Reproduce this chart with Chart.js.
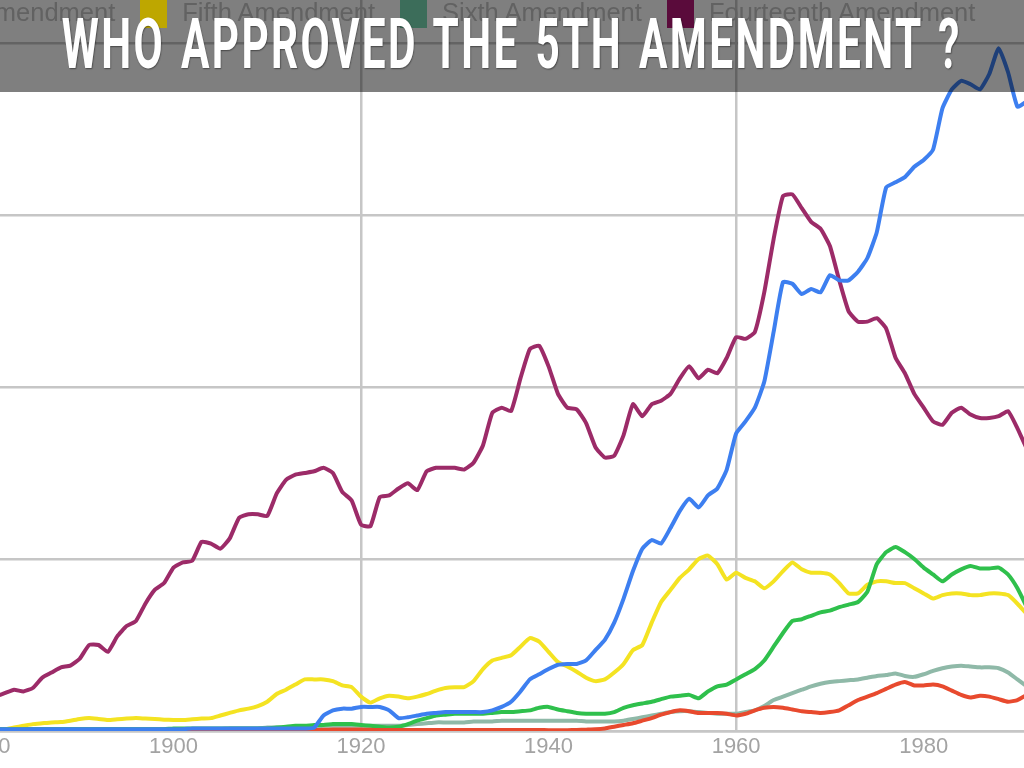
<!DOCTYPE html>
<html>
<head>
<meta charset="utf-8">
<title>Who approved the 5th Amendment ?</title>
<script src="https://cdn.jsdelivr.net/npm/chart.js@4.4.0/dist/chart.umd.min.js"></script>
<style>
  html, body { margin: 0; padding: 0; background: #fff; }
  #contenitore { position: relative; width: 1024px; height: 768px; overflow: hidden; background: #fff; }
  #ngramChart { position: absolute; left: 0; top: 0; filter: blur(0.6px); }
  #banda { position: absolute; left: 0; top: 0; width: 1024px; height: 92px; background: rgba(0, 0, 0, 0.5); }
  #legenda {
    position: absolute; top: -4px; left: 0; display: flex; white-space: nowrap;
    font-family: "Liberation Sans", Arial, sans-serif; font-size: 25.5px; color: #626262;
    filter: blur(0.7px);
  }
  .voce { display: flex; align-items: flex-start; margin-right: 25px; }
  .quadrato { width: 27px; height: 32px; margin-right: 15px; }
  .testoVoce { line-height: 26px; margin-top: 3px; }
  #titolo {
    position: absolute; left: 0; top: 8px; width: 1024px;
    display: flex; justify-content: center;
    font-family: Roboto, "Liberation Sans", sans-serif; font-weight: 700; font-size: 71px;
    letter-spacing: 4px; word-spacing: 5px;
    line-height: 1; color: #fff; white-space: nowrap;
  }
  #titolo span { display: inline-block; flex: none; transform-origin: 50% 50%; text-shadow: 1px 1px 2px rgba(0,0,0,0.45); }
</style>
</head>
<body>
<div id="contenitore">
  <canvas id="ngramChart" width="1024" height="768"></canvas>
  <div id="banda"></div>
  <div id="legenda"></div>
  <div id="titolo"><span>WHO APPROVED THE 5TH AMENDMENT ?</span></div>
</div>
<script>
// Anni (asse x)
const anni = [
  1880, 1881, 1882, 1883, 1884, 1885, 1886, 1887, 1888, 1889,
  1890, 1891, 1892, 1893, 1894, 1895, 1896, 1897, 1898, 1899,
  1900, 1901, 1902, 1903, 1904, 1905, 1906, 1907, 1908, 1909,
  1910, 1911, 1912, 1913, 1914, 1915, 1916, 1917, 1918, 1919,
  1920, 1921, 1922, 1923, 1924, 1925, 1926, 1927, 1928, 1929,
  1930, 1931, 1932, 1933, 1934, 1935, 1936, 1937, 1938, 1939,
  1940, 1941, 1942, 1943, 1944, 1945, 1946, 1947, 1948, 1949,
  1950, 1951, 1952, 1953, 1954, 1955, 1956, 1957, 1958, 1959,
  1960, 1961, 1962, 1963, 1964, 1965, 1966, 1967, 1968, 1969,
  1970, 1971, 1972, 1973, 1974, 1975, 1976, 1977, 1978, 1979,
  1980, 1981, 1982, 1983, 1984, 1985, 1986, 1987, 1988, 1989,
  1990, 1991
];

// Serie
const firstAmendment = [
  0.01, 0.01, 0.01, 0.01, 0.01, 0.01, 0.01, 0.01, 0.01, 0.01,
  0.01, 0.01, 0.01, 0.01, 0.01, 0.01, 0.01, 0.01, 0.01, 0.01,
  0.01, 0.01, 0.015, 0.015, 0.015, 0.015, 0.015, 0.015, 0.015, 0.015,
  0.015, 0.015, 0.015, 0.015, 0.015, 0.02, 0.09, 0.12, 0.13, 0.13,
  0.14, 0.14, 0.14, 0.12, 0.075, 0.08, 0.09, 0.10, 0.105, 0.11,
  0.11, 0.11, 0.11, 0.11, 0.12, 0.14, 0.17, 0.23, 0.30, 0.33,
  0.36, 0.385, 0.39, 0.39, 0.41, 0.47, 0.53, 0.63, 0.77, 0.93,
  1.06, 1.11, 1.09, 1.18, 1.28, 1.35, 1.30, 1.37, 1.41, 1.52,
  1.73, 1.80, 1.88, 2.03, 2.32, 2.61, 2.60, 2.54, 2.57, 2.55,
  2.65, 2.62, 2.62, 2.67, 2.75, 2.90, 3.16, 3.19, 3.22, 3.28,
  3.32, 3.38, 3.62, 3.73, 3.78, 3.76, 3.73, 3.82, 3.97, 3.83,
  3.63, 3.66
];
const secondAmendment = [
  0.005, 0.005, 0.005, 0.005, 0.005, 0.005, 0.005, 0.005, 0.005, 0.005,
  0.005, 0.005, 0.005, 0.005, 0.005, 0.005, 0.005, 0.005, 0.005, 0.005,
  0.005, 0.005, 0.005, 0.005, 0.005, 0.005, 0.005, 0.005, 0.005, 0.005,
  0.005, 0.005, 0.005, 0.005, 0.005, 0.006, 0.007, 0.008, 0.008, 0.008,
  0.008, 0.007, 0.006, 0.006, 0.006, 0.006, 0.006, 0.006, 0.006, 0.006,
  0.006, 0.006, 0.006, 0.006, 0.006, 0.006, 0.006, 0.006, 0.006, 0.006,
  0.005, 0.005, 0.005, 0.006, 0.008, 0.01, 0.015, 0.025, 0.035, 0.045,
  0.06, 0.075, 0.095, 0.11, 0.12, 0.115, 0.105, 0.105, 0.105, 0.10,
  0.09, 0.10, 0.12, 0.135, 0.14, 0.135, 0.125, 0.115, 0.11, 0.105,
  0.11, 0.12, 0.15, 0.18, 0.20, 0.22, 0.245, 0.27, 0.285, 0.265,
  0.265, 0.27, 0.26, 0.235, 0.21, 0.195, 0.205, 0.20, 0.185, 0.17,
  0.18, 0.21
];
const fourthAmendment = [
  0.01, 0.01, 0.01, 0.01, 0.01, 0.01, 0.01, 0.01, 0.01, 0.01,
  0.01, 0.01, 0.01, 0.01, 0.01, 0.01, 0.01, 0.01, 0.01, 0.01,
  0.015, 0.015, 0.015, 0.015, 0.015, 0.015, 0.015, 0.015, 0.015, 0.015,
  0.015, 0.02, 0.025, 0.03, 0.03, 0.035, 0.035, 0.04, 0.04, 0.04,
  0.035, 0.03, 0.025, 0.02, 0.025, 0.04, 0.06, 0.075, 0.09, 0.095,
  0.10, 0.10, 0.10, 0.10, 0.105, 0.11, 0.11, 0.115, 0.12, 0.135,
  0.14, 0.125, 0.115, 0.105, 0.10, 0.10, 0.10, 0.11, 0.135, 0.15,
  0.16, 0.17, 0.185, 0.20, 0.205, 0.21, 0.19, 0.23, 0.26, 0.27,
  0.30, 0.33, 0.36, 0.41, 0.49, 0.57, 0.64, 0.65, 0.67, 0.69,
  0.70, 0.72, 0.735, 0.75, 0.81, 0.97, 1.04, 1.07, 1.04, 1.00,
  0.95, 0.91, 0.87, 0.91, 0.94, 0.96, 0.945, 0.945, 0.95, 0.91,
  0.83, 0.72
];
const fifthAmendment = [
  0.0, 0.005, 0.01, 0.02, 0.03, 0.04, 0.045, 0.05, 0.052, 0.06,
  0.07, 0.075, 0.07, 0.064, 0.068, 0.072, 0.075, 0.072, 0.07, 0.066,
  0.064, 0.064, 0.068, 0.072, 0.075, 0.09, 0.105, 0.12, 0.13, 0.145,
  0.17, 0.215, 0.24, 0.27, 0.30, 0.30, 0.30, 0.29, 0.265, 0.255,
  0.20, 0.165, 0.19, 0.205, 0.20, 0.19, 0.20, 0.215, 0.235, 0.25,
  0.255, 0.255, 0.29, 0.36, 0.41, 0.425, 0.44, 0.49, 0.54, 0.52,
  0.46, 0.40, 0.375, 0.345, 0.31, 0.29, 0.30, 0.34, 0.39, 0.47,
  0.50, 0.63, 0.75, 0.82, 0.89, 0.94, 1.00, 1.02, 0.97, 0.88,
  0.92, 0.89, 0.87, 0.83, 0.87, 0.93, 0.98, 0.94, 0.92, 0.92,
  0.91, 0.86, 0.80, 0.80, 0.85, 0.87, 0.87, 0.86, 0.86, 0.83,
  0.80, 0.77, 0.79, 0.80, 0.80, 0.79, 0.79, 0.80, 0.80, 0.79,
  0.74, 0.68
];
const sixthAmendment = [
  0.01, 0.01, 0.01, 0.01, 0.01, 0.01, 0.01, 0.01, 0.01, 0.01,
  0.01, 0.01, 0.01, 0.01, 0.01, 0.01, 0.01, 0.01, 0.01, 0.01,
  0.01, 0.01, 0.01, 0.01, 0.01, 0.01, 0.015, 0.015, 0.015, 0.015,
  0.02, 0.02, 0.02, 0.02, 0.02, 0.025, 0.03, 0.03, 0.03, 0.03,
  0.03, 0.03, 0.03, 0.03, 0.03, 0.035, 0.04, 0.045, 0.05, 0.05,
  0.05, 0.05, 0.055, 0.055, 0.055, 0.06, 0.06, 0.06, 0.06, 0.06,
  0.06, 0.06, 0.06, 0.06, 0.055, 0.055, 0.055, 0.055, 0.06, 0.07,
  0.08, 0.09, 0.10, 0.11, 0.115, 0.115, 0.11, 0.105, 0.10, 0.10,
  0.10, 0.11, 0.12, 0.145, 0.18, 0.20, 0.22, 0.24, 0.26, 0.275,
  0.285, 0.29, 0.295, 0.30, 0.31, 0.32, 0.325, 0.335, 0.32, 0.315,
  0.33, 0.35, 0.365, 0.375, 0.38, 0.375, 0.37, 0.37, 0.365, 0.34,
  0.30, 0.26
];
const fourteenthAmendment = [
  0.19, 0.20, 0.22, 0.24, 0.23, 0.25, 0.31, 0.34, 0.37, 0.38,
  0.42, 0.50, 0.50, 0.46, 0.55, 0.61, 0.64, 0.74, 0.82, 0.86,
  0.95, 0.98, 0.99, 1.10, 1.09, 1.06, 1.12, 1.24, 1.26, 1.26,
  1.25, 1.38, 1.46, 1.49, 1.50, 1.51, 1.53, 1.50, 1.39, 1.34,
  1.20, 1.19, 1.36, 1.37, 1.41, 1.44, 1.40, 1.51, 1.53, 1.53,
  1.53, 1.52, 1.56, 1.66, 1.85, 1.88, 1.86, 2.05, 2.22, 2.24,
  2.12, 1.96, 1.88, 1.87, 1.79, 1.65, 1.59, 1.60, 1.72, 1.90,
  1.83, 1.90, 1.92, 1.96, 2.05, 2.12, 2.05, 2.10, 2.08, 2.17,
  2.29, 2.28, 2.32, 2.55, 2.86, 3.11, 3.12, 3.04, 2.96, 2.92,
  2.82, 2.62, 2.44, 2.38, 2.38, 2.40, 2.34, 2.17, 2.08, 1.96,
  1.88, 1.80, 1.78, 1.85, 1.88, 1.84, 1.82, 1.82, 1.83, 1.86,
  1.76, 1.64
];

// Etichette e colori
const nomiSerie = ['First Amendment', 'Second Amendment', 'Fourth Amendment', 'Fifth Amendment', 'Sixth Amendment', 'Fourteenth Amendment'];
const valoriSerie = [firstAmendment, secondAmendment, fourthAmendment, fifthAmendment, sixthAmendment, fourteenthAmendment];
const coloriLinee = ['#3d7ff0', '#e84a2e', '#2fc04c', '#f4e322', '#8fb9a8', '#9c2b68'];
const coloriLegenda = ['#1f3f78', '#742517', '#186026', '#bea700', '#3c6d5a', '#5a0b3b'];
const etichetteAnni = [1880, 1900, 1920, 1940, 1960, 1980];
const anniGriglia = [1920, 1960];
const lineeY = [0, 1, 2, 3, 4];

const COLORE_GRIGLIA = '#c6c6c6';

// Legenda (in parte fuori dallo schermo, come nell'originale)
function creaLegenda() {
    const legenda = document.getElementById('legenda');
    nomiSerie.forEach((nome, i) => {
        const voce = document.createElement('div');
        voce.className = 'voce';
        const quad = document.createElement('div');
        quad.className = 'quadrato';
        quad.style.background = coloriLegenda[i];
        const testo = document.createElement('div');
        testo.className = 'testoVoce';
        testo.textContent = nome;
        voce.appendChild(quad);
        voce.appendChild(testo);
        legenda.appendChild(voce);
    });
    // il quadrato di "Fifth Amendment" cade a x = 140
    const quadFifth = legenda.children[3].firstChild;
    legenda.style.left = (140 - quadFifth.offsetLeft) + 'px';
}

function creaGrafico() {
    const ctx = document.getElementById('ngramChart').getContext('2d');
    new Chart(ctx, {
        type: 'line',
        data: {
            datasets: valoriSerie.map((serie, i) => ({
                label: nomiSerie[i],
                data: serie.map((v, k) => ({ x: anni[k], y: v })),
                borderColor: coloriLinee[i],
                backgroundColor: coloriLinee[i],
                borderWidth: 4,
                pointRadius: 0,
                tension: 0.15,
                borderJoinStyle: 'round',
                borderCapStyle: 'round',
                fill: false
            }))
        },
        options: {
            responsive: false,
            animation: false,
            layout: { padding: 0 },
            plugins: {
                legend: { display: false },
                title: { display: false },
                tooltip: { enabled: false }
            },
            scales: {
                x: {
                    type: 'linear',
                    min: 1881.5,
                    max: 1990.7,
                    afterBuildTicks: scale => { scale.ticks = etichetteAnni.map(v => ({ value: v })); },
                    afterFit: scale => {
                        scale.height = 37;
                        // l'etichetta 1880 esce a sinistra: niente margine extra
                        scale.paddingLeft = 0;
                        scale.paddingRight = 0;
                    },
                    grid: {
                        color: c => (c.tick && anniGriglia.includes(c.tick.value)) ? COLORE_GRIGLIA : 'rgba(0,0,0,0)',
                        lineWidth: 2.5,
                        drawTicks: false
                    },
                    border: { display: true, color: COLORE_GRIGLIA, width: 2.5 },
                    ticks: {
                        padding: 3,
                        color: '#a3a3a3',
                        font: { family: '"Liberation Sans", Arial, sans-serif', size: 22 },
                        callback: v => String(v),
                        maxRotation: 0,
                        autoSkip: false
                    }
                },
                y: {
                    min: 0,
                    max: 4.25,
                    afterBuildTicks: scale => { scale.ticks = lineeY.map(v => ({ value: v })); },
                    afterFit: scale => { scale.width = 0; },
                    grid: { color: COLORE_GRIGLIA, lineWidth: 2.5, drawTicks: false },
                    border: { display: false },
                    ticks: { display: false }
                }
            }
        }
    });
}

// Titolo: stretto in orizzontale per imitare il carattere condensato
function sistemaTitolo() {
    const span = document.querySelector('#titolo span');
    span.style.transform = 'none';
    const larghezza = span.getBoundingClientRect().width;
    span.style.transform = 'scaleX(' + (900 / larghezza) + ')';
}

creaGrafico();
creaLegenda();
sistemaTitolo();
if (document.fonts && document.fonts.ready) {
    document.fonts.ready.then(sistemaTitolo);
}
</script>
</body>
</html>
